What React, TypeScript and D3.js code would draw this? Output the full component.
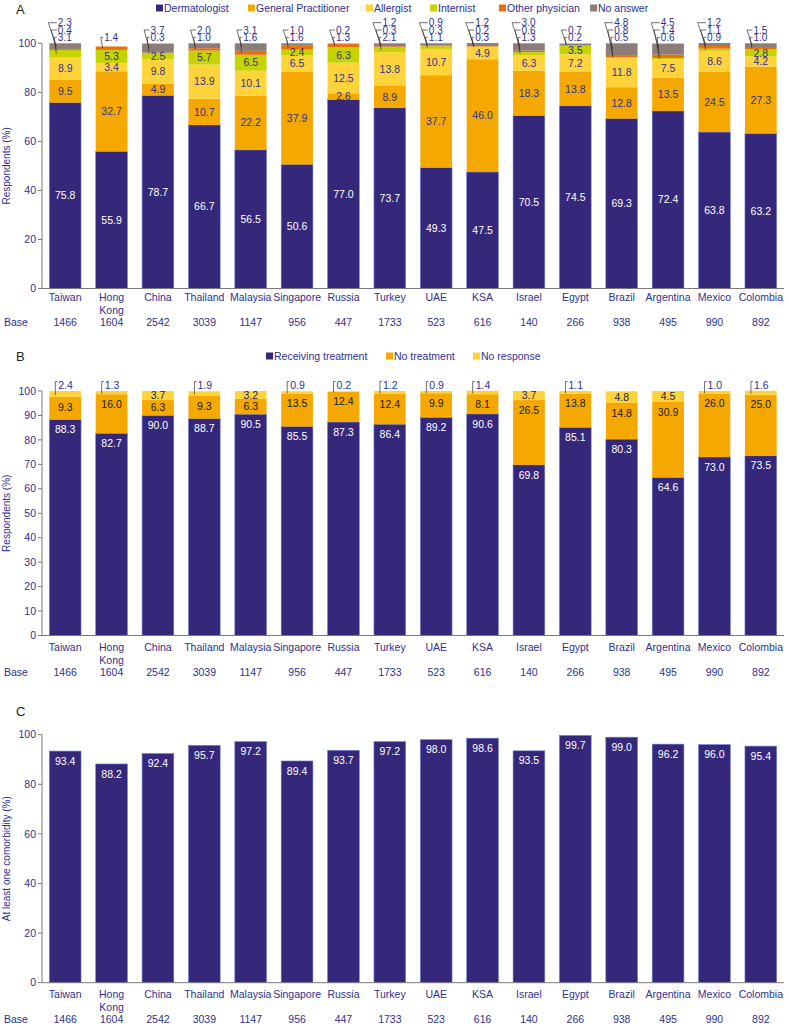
import React from "react";
import * as d3 from "d3";

// ---------- data ----------
const countries = ["Taiwan","Hong Kong","China","Thailand","Malaysia","Singapore","Russia","Turkey","UAE","KSA","Israel","Egypt","Brazil","Argentina","Mexico","Colombia"];
const baseN = [1466,1604,2542,3039,1147,956,447,1733,523,616,140,266,938,495,990,892];

// Panel A
const keysA = ["Dermatologist","General Practitioner","Allergist","Internist","Other physician","No answer"];
const aDerm = [75.8,55.9,78.7,66.7,56.5,50.6,77.0,73.7,49.3,47.5,70.5,74.5,69.3,72.4,63.8,63.2];
const aGP = [9.5,32.7,4.9,10.7,22.2,37.9,2.6,8.9,37.7,46.0,18.3,13.8,12.8,13.5,24.5,27.3];
const aAllergist = [8.9,3.4,9.8,13.9,10.1,6.5,12.5,13.8,10.7,4.9,6.3,7.2,11.8,7.5,8.6,4.2];
const aInternist = [3.1,5.3,2.5,5.7,6.5,2.4,6.3,2.1,1.1,0.3,1.3,3.5,0.5,0.6,0.9,2.8];
const aOther = [0.4,1.4,0.3,1.0,1.6,1.6,1.3,0.3,0.3,0.2,0.6,0.2,0.8,1.4,1.1,1.0];
const aNoAnswer = [2.3,0,3.7,2.0,3.1,1.0,0.2,1.2,0.9,1.2,3.0,0.7,4.8,4.5,1.2,1.5];
const aInternistInside = [false,true,true,true,true,true,true,false,false,false,false,true,false,false,false,true];

// Panel B
const keysB = ["Receiving treatment","No treatment","No response"];
const bReceiving = [88.3,82.7,90.0,88.7,90.5,85.5,87.3,86.4,89.2,90.6,69.8,85.1,80.3,64.6,73.0,73.5];
const bNoTreatment = [9.3,16.0,6.3,9.3,6.3,13.5,12.4,12.4,9.9,8.1,26.5,13.8,14.8,30.9,26.0,25.0];
const bNoResponse = [2.4,1.3,3.7,1.9,3.2,0.9,0.2,1.2,0.9,1.4,3.7,1.1,4.8,4.5,1.0,1.6];

// Panel C
const cComorbidity = [93.4,88.2,92.4,95.7,97.2,89.4,93.7,97.2,98.0,98.6,93.5,99.7,99.0,96.2,96.0,95.4];

const ticksA = [0,20,40,60,80,100];
const ticksB = [0,10,20,30,40,50,60,70,80,90,100];
const ticksC = [0,20,40,60,80,100];

// ---------- style ----------
const BLUE = "#2E3192";
const NAVY = "#35287A";
const colorsA = [NAVY,"#F5A800","#FFD43B","#C6D300","#E8710A","#8C7D78"];
const colorsB = [NAVY,"#F5A800","#FFD43B"];
const FONT = "'Liberation Sans', Arial, sans-serif";
const FS = 10.5;
const X0 = 42, X1 = 784;

const x = d3.scaleBand<string>().domain(countries).range([X0, X1]).paddingInner(0.316).paddingOuter(0.158);
const bw = x.bandwidth();

const fmt = (v: number) => v.toFixed(1);

function Axes({ y, ticks, title, labelY, baseY }: any) {
  const [r0, r1] = y.range();
  return (
    <g fontFamily={FONT} fontSize={FS}>
      <line x1={X0} x2={X0} y1={r1} y2={r0} stroke="#7a7a7a" />
      <line x1={X0} x2={X1} y1={r0} y2={r0} stroke="#7a7a7a" />
      {ticks.map((t: number) => (
        <g key={t}>
          <line x1={X0 - 4} x2={X0} y1={y(t)} y2={y(t)} stroke="#7a7a7a" />
          <text x={X0 - 6} y={y(t)} dy="0.35em" textAnchor="end" fill={BLUE}>{t}</text>
        </g>
      ))}
      <text transform={`translate(10,${(r0 + r1) / 2}) rotate(-90)`} textAnchor="middle" fill={BLUE} fontSize={10}>{title}</text>
      {countries.map((c) => (
        <text key={c} x={(x(c) as number) + bw / 2} y={labelY} textAnchor="middle" fill={BLUE}>
          {c.split(" ").map((w, k) => (
            <tspan key={k} x={(x(c) as number) + bw / 2} dy={k === 0 ? "0.35em" : 13}>{w}</tspan>
          ))}
        </text>
      ))}
      <text x={4} y={baseY} dy="0.35em" fill={BLUE}>Base</text>
      {countries.map((c, i) => (
        <text key={c} x={(x(c) as number) + bw / 2} y={baseY} dy="0.35em" textAnchor="middle" fill={BLUE}>{baseN[i]}</text>
      ))}
    </g>
  );
}

function Legend({ keys, colors, xs, y }: any) {
  return (
    <g fontFamily={FONT} fontSize={FS} fill={BLUE}>
      {keys.map((k: string, i: number) => (
        <g key={k}>
          <rect x={xs[i]} y={y - 3.5} width={7} height={7} fill={colors[i]} />
          <text x={xs[i] + 8} y={y} dy="0.35em">{k}</text>
        </g>
      ))}
    </g>
  );
}

function PanelA() {
  const y = d3.scaleLinear().domain([0, 100]).range([288.5, 43.3]);
  const rows = countries.map((c, i) => ({
    [keysA[0]]: aDerm[i], [keysA[1]]: aGP[i], [keysA[2]]: aAllergist[i],
    [keysA[3]]: aInternist[i], [keysA[4]]: aOther[i], [keysA[5]]: aNoAnswer[i],
  }));
  const stack = d3.stack<any>().keys(keysA)(rows);
  return (
    <g>
      <text x={16} y={9} dy="0.35em" fontFamily={FONT} fontSize={13} fill="#222">A</text>
      <Legend keys={keysA} colors={colorsA} xs={[156, 248, 366, 430, 499, 590]} y={8} />
      {stack.map((layer, li) => layer.map((d, i) => {
        const bx = x(countries[i]) as number;
        const h = y(d[0]) - y(d[1]);
        if (h <= 0) return null;
        return <rect key={`${li}-${i}`} x={bx} y={y(d[1])} width={bw} height={h} fill={colorsA[li]}
          stroke={li === 0 ? "#6f7fcf" : "none"} strokeWidth={0.6} />;
      }))}
      <Axes y={y} ticks={ticksA} title="Respondents (%)" labelY={297} baseY={322} />
      <g fontFamily={FONT} fontSize={FS} textAnchor="middle">
        {stack.map((layer, li) => layer.map((d, i) => {
          const inside = li <= 2 || (li === 3 && aInternistInside[i]);
          if (!inside) return null;
          const bx = x(countries[i]) as number;
          return <text key={`${li}-${i}`} x={bx + bw / 2} y={y((d[0] + d[1]) / 2)} dy="0.35em"
            fill={li === 0 ? "#fff" : BLUE}>{fmt(d[1] - d[0])}</text>;
        }))}
      </g>
      <g fontFamily={FONT} fontSize={10}>
        {countries.map((c, i) => {
          const bx = x(c) as number;
          const list: number[] = [];
          if (!aInternistInside[i] && aInternist[i] > 0) list.push(3);
          if (aOther[i] > 0) list.push(4);
          if (aNoAnswer[i] > 0) list.push(5);
          return list.map((li, k) => {
            const d = stack[li][i];
            const ly = y(100) - 6 - k * 7.3;
            const tx = bx + 8.5;
            const ex = bx + 5 - k * 3;
            const pts = `${tx - 1},${ly} ${ex},${ly} ${bx + 7},${y((d[0] + d[1]) / 2)}`;
            return (
              <g key={`${i}-${li}`}>
                <polyline points={pts} fill="none" stroke="#333" strokeWidth={0.7} />
                <text x={tx} y={ly} dy="0.35em" fill={BLUE}>{fmt(d[1] - d[0])}</text>
              </g>
            );
          });
        })}
      </g>
    </g>
  );
}

function PanelB() {
  const y = d3.scaleLinear().domain([0, 100]).range([635.5, 391]);
  const rows = countries.map((c, i) => ({
    [keysB[0]]: bReceiving[i], [keysB[1]]: bNoTreatment[i], [keysB[2]]: bNoResponse[i],
  }));
  const stack = d3.stack<any>().keys(keysB)(rows);
  return (
    <g>
      <text x={16} y={356} dy="0.35em" fontFamily={FONT} fontSize={13} fill="#222">B</text>
      <Legend keys={keysB} colors={colorsB} xs={[266, 386, 473]} y={356} />
      {stack.map((layer, li) => layer.map((d, i) => {
        const bx = x(countries[i]) as number;
        const h = y(d[0]) - y(d[1]);
        return <rect key={`${li}-${i}`} x={bx} y={y(d[1])} width={bw} height={h} fill={colorsB[li]}
          stroke={li === 0 ? "#6f7fcf" : "none"} strokeWidth={0.6} />;
      }))}
      <Axes y={y} ticks={ticksB} title="Respondents (%)" labelY={647} baseY={672} />
      <g fontFamily={FONT} fontSize={FS} textAnchor="middle">
        {stack.map((layer, li) => layer.map((d, i) => {
          const v = d[1] - d[0];
          if (li === 2 && v < 3) return null;
          const bx = x(countries[i]) as number;
          const top = y(d[1]);
          const mid = y((d[0] + d[1]) / 2);
          const ty = li === 2 ? mid : Math.min(mid, top + 10);
          return <text key={`${li}-${i}`} x={bx + bw / 2} y={ty} dy="0.35em"
            fill={li === 0 ? "#fff" : li === 1 ? "#1a1a1a" : "#1f1f4f"}>{fmt(v)}</text>;
        }))}
      </g>
      <g fontFamily={FONT} fontSize={FS}>
        {countries.map((c, i) => {
          const d = stack[2][i];
          const v = d[1] - d[0];
          if (v >= 3) return null;
          const bx = x(c) as number;
          const ly = y(100) - 6;
          const tx = bx + 9;
          return (
            <g key={c}>
              <path d={`M${tx - 1},${ly - 3.5} H${bx + 6} V${y((d[0] + d[1]) / 2) + 1}`} fill="none" stroke="#333" strokeWidth={0.7} />
              <text x={tx} y={ly} dy="0.35em" fill={BLUE}>{fmt(v)}</text>
            </g>
          );
        })}
      </g>
    </g>
  );
}

function PanelC() {
  const y = d3.scaleLinear().domain([0, 100]).range([982.7, 734.7]);
  return (
    <g>
      <text x={16} y={711} dy="0.35em" fontFamily={FONT} fontSize={13} fill="#222">C</text>
      {countries.map((c, i) => {
        const bx = x(c) as number;
        return <rect key={c} x={bx} y={y(cComorbidity[i])} width={bw} height={y(0) - y(cComorbidity[i])}
          fill={NAVY} stroke="#6f7fcf" strokeWidth={0.6} />;
      })}
      <Axes y={y} ticks={ticksC} title="At least one comorbidity (%)" labelY={994} baseY={1019} />
      <g fontFamily={FONT} fontSize={FS} textAnchor="middle" fill="#fff">
        {countries.map((c, i) => (
          <text key={c} x={(x(c) as number) + bw / 2} y={y(cComorbidity[i]) + 10} dy="0.35em">{fmt(cComorbidity[i])}</text>
        ))}
      </g>
    </g>
  );
}

export default function App() {
  return (
    <svg width={789} height={1028} style={{ position: "absolute", left: 0, top: 0, background: "#fff" }}>
      <PanelA />
      <PanelB />
      <PanelC />
    </svg>
  );
}
